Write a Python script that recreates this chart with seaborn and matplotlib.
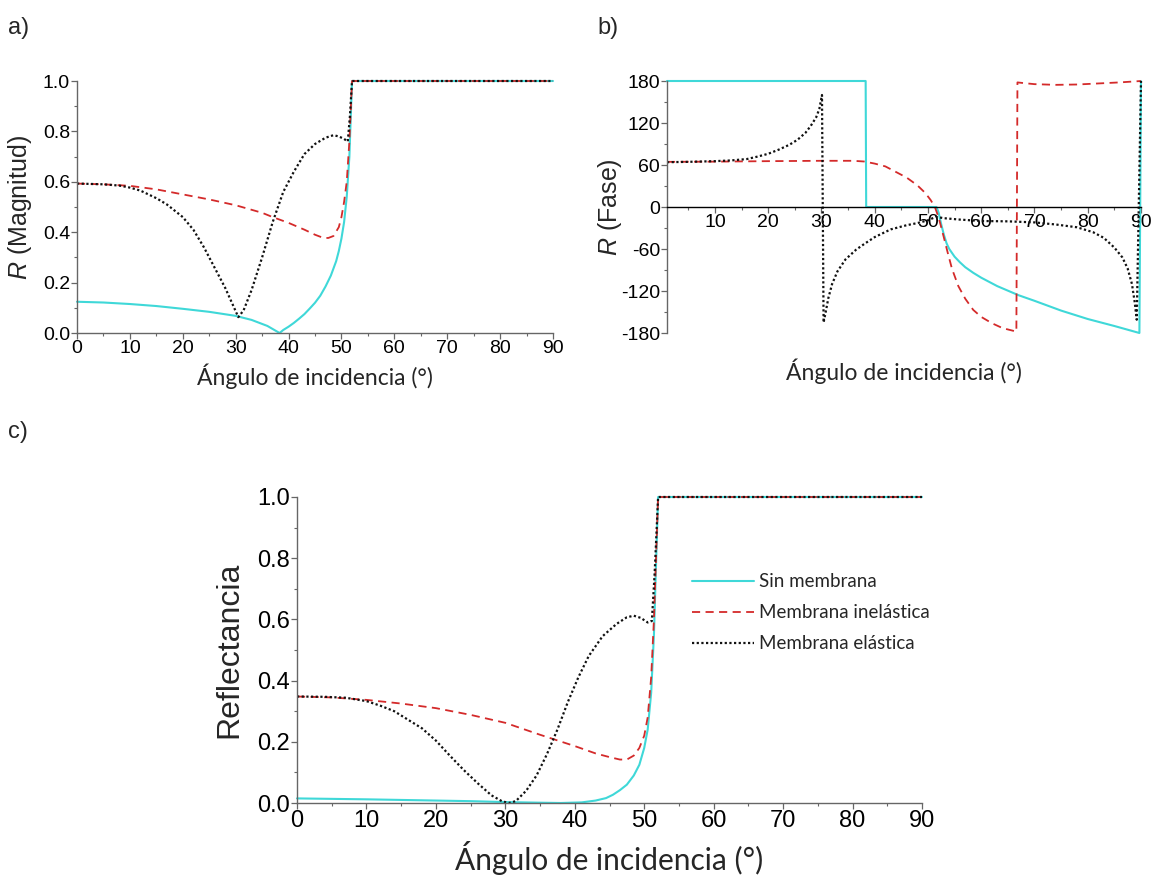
import numpy as np
import pandas as pd
import matplotlib
matplotlib.use("Agg")
import matplotlib.pyplot as plt
from matplotlib.ticker import MultipleLocator, FixedLocator
import seaborn as sns

# ---------------- data ----------------
# a) |R| magnitude vs angle of incidence
ang_a_sin = [0, 5, 10, 15, 20, 25, 30, 33, 36, 38.3, 39, 40, 41, 42, 43, 44, 45, 46, 47, 48, 49, 49.5, 50,
             50.5, 51, 51.5, 52, 90]
mag_sin = [0.124, 0.121, 0.115, 0.107, 0.096, 0.084, 0.068, 0.052, 0.028, 0.0, 0.012, 0.025, 0.04, 0.057,
           0.075, 0.097, 0.12, 0.148, 0.185, 0.228, 0.285, 0.325, 0.375, 0.44, 0.54, 0.70, 1.0, 1.0]
ang_a_inel = [0, 5, 10, 15, 20, 25, 30, 35, 37, 40, 43, 45, 46.5, 47.5, 48.5, 49.5, 50, 50.5, 51, 51.5, 52, 90]
mag_inel = [0.593, 0.59, 0.584, 0.57, 0.55, 0.53, 0.507, 0.477, 0.46, 0.437, 0.41, 0.39, 0.378, 0.377, 0.385,
            0.42, 0.46, 0.52, 0.60, 0.76, 1.0, 1.0]
ang_a_el = [0, 5, 8, 10, 12, 15, 17, 20, 22, 24, 26, 28, 29.5, 30.5, 31.5, 33, 35, 37, 39, 41, 43, 45, 47,
            48.5, 49.5, 50.5, 51.2, 51.6, 52, 90]
mag_el = [0.593, 0.59, 0.585, 0.577, 0.565, 0.535, 0.51, 0.46, 0.41, 0.34, 0.26, 0.18, 0.11, 0.063, 0.09, 0.17,
          0.30, 0.44, 0.56, 0.64, 0.71, 0.75, 0.775, 0.785, 0.78, 0.77, 0.76, 0.86, 1.0, 1.0]

# b) phase of R (degrees)
ang_b_sin = [1, 38.3, 38.4, 51.6, 52, 52.5, 53, 53.5, 54, 55, 56, 57, 58.5, 60, 63, 67, 70, 75, 80, 85,
             89.7, 90]
fase_sin = [180, 180, 0, 0, -8, -25, -40, -52, -60, -71, -79, -86, -94, -101, -113, -126, -134, -148, -160,
            -170, -180, 180]
ang_b_inel = [1, 10, 20, 30, 36, 38, 40, 42, 44, 46, 48, 49.5, 50.5, 51.3, 52, 52.6, 53.2, 53.7, 54.5, 55.7,
              57, 58.5, 60, 62, 64, 66.6, 66.8, 68, 70, 74, 78, 82, 86, 90]
fase_inel = [64.5, 64.8, 65.5, 66, 66, 65, 62, 58, 50, 42, 31, 20, 10, 0, -15, -32, -50, -65, -88, -113,
             -131, -147, -157, -166, -173, -178, 178, 177, 175.5, 174.5, 175, 176.5, 178, 180]
ang_b_el = [1, 5, 10, 13, 16, 18, 20, 22, 24, 25.5, 27, 28, 29, 29.6, 30.1, 30.4, 30.8, 31.3, 32, 33, 34.5,
            36.5, 38, 40, 43, 46, 48, 50, 51.5, 53, 56, 60, 65, 70, 74, 78, 81, 83, 85, 86.5, 87.5, 88.3,
            88.8, 89.2, 90]
fase_el = [64, 64.5, 65.5, 66.5, 68.5, 72, 76, 82, 89, 96, 106, 116, 128, 140, 160, -165, -150, -130, -110,
           -92, -75, -61, -53, -43, -32, -26, -23, -19, -14, -16, -18, -20, -20.5, -22, -25, -29, -36, -44,
           -58, -72, -88, -110, -135, -161, 180]

# c) reflectance
ang_c_sin = [0, 10, 20, 25, 30, 35, 38, 41, 43, 44.5, 45.5, 46.5, 47.5, 48.5, 49.3, 50, 50.5, 51, 51.4, 51.7,
             52, 90]
refl_sin = [0.015, 0.012, 0.008, 0.006, 0.003, 0.001, 0.0, 0.002, 0.008, 0.016, 0.027, 0.042, 0.06, 0.09,
            0.125, 0.18, 0.24, 0.36, 0.55, 0.78, 1.0, 1.0]
ang_c_inel = [0, 5, 10, 15, 20, 25, 30, 35, 40, 43, 45, 46.5, 47.5, 48.5, 49.3, 50, 50.5, 51, 51.4, 51.7,
              52, 90]
refl_inel = [0.348, 0.345, 0.337, 0.325, 0.31, 0.288, 0.262, 0.223, 0.186, 0.162, 0.15, 0.142, 0.142, 0.155,
             0.18, 0.22, 0.28, 0.41, 0.60, 0.80, 1.0, 1.0]
ang_c_el = [0, 4, 7, 10, 12, 14, 16, 18, 20, 22, 24, 26, 28, 29.5, 30.5, 31.5, 33, 34.5, 36, 37.5, 39, 40.5,
            42, 44, 46, 47.5, 48.5, 49.5, 50.5, 51.1, 51.5, 52, 90]
refl_el = [0.348, 0.347, 0.344, 0.333, 0.318, 0.30, 0.272, 0.244, 0.204, 0.155, 0.108, 0.065, 0.025, 0.006,
           0.0, 0.006, 0.04, 0.09, 0.16, 0.24, 0.33, 0.41, 0.48, 0.545, 0.585, 0.607, 0.612, 0.605, 0.59,
           0.595, 0.75, 1.0, 1.0]

series_names = ["Sin membrana", "Membrana inelástica", "Membrana elástica"]
x_label = "Ángulo de incidencia (°)"

# ---------------- style ----------------
sns.set_theme(style="ticks")
plt.rcParams["font.family"] = ["Liberation Sans", "DejaVu Sans"]
plt.rcParams["mathtext.fontset"] = "custom"
plt.rcParams["mathtext.it"] = "Liberation Sans:italic"
plt.rcParams["mathtext.rm"] = "Liberation Sans"
plt.rcParams["axes.unicode_minus"] = False

CYAN = "#3fd8d8"
RED = "#d42a2a"
BLACK = "#111111"
styles = [
    dict(color=CYAN, lw=1.5, ls="-"),
    dict(color=RED, lw=1.3, ls=(0, (4.5, 3))),
    dict(color=BLACK, lw=1.6, ls=(0, (1, 1.1))),
]
SPINE = "#666666"
LABEL_FONT = ["Lato", "DejaVu Sans"]


def draw(ax, xs, ys):
    for x, y, name, st in zip(xs, ys, series_names, styles):
        df = pd.DataFrame({"x": x, "y": y})
        sns.lineplot(data=df, x="x", y="y", ax=ax, sort=False, estimator=None,
                     color=st["color"], linewidth=st["lw"], linestyle=st["ls"],
                     label=name, clip_on=False)


def style_axes(ax, tick_size):
    for s in ("top", "right"):
        ax.spines[s].set_visible(False)
    for s in ("left", "bottom"):
        ax.spines[s].set_color(SPINE)
        ax.spines[s].set_linewidth(1.0)
    ax.tick_params(which="major", direction="out", length=4, width=0.9, color=SPINE,
                   labelsize=tick_size, pad=1, labelcolor="black")
    ax.tick_params(which="minor", direction="out", length=2.5, width=0.8, color=SPINE)


fig = plt.figure(figsize=(11.57, 8.84), dpi=100)

# ---------------- a) magnitude ----------------
ax_a = fig.add_axes([77 / 1157, 1 - 333 / 884, 476 / 1157, 252 / 884])
draw(ax_a, [ang_a_sin, ang_a_inel, ang_a_el], [mag_sin, mag_inel, mag_el])
ax_a.set_xlim(0, 90)
ax_a.set_ylim(0, 1.0)
ax_a.xaxis.set_major_locator(MultipleLocator(10))
ax_a.xaxis.set_minor_locator(MultipleLocator(5))
ax_a.yaxis.set_major_locator(MultipleLocator(0.2))
ax_a.yaxis.set_minor_locator(MultipleLocator(0.1))
ax_a.yaxis.set_major_formatter(lambda v, p: f"{v:.1f}")
style_axes(ax_a, 14)
ax_a.legend().remove()
ax_a.set_xlabel(x_label, fontsize=16.5, family=LABEL_FONT)
ax_a.set_ylabel(r"$\mathit{R}$ (Magnitud)", fontsize=18)
ax_a.xaxis.set_label_coords(0.5, -0.12)
ax_a.yaxis.set_label_coords(-0.09, 0.5)

# ---------------- b) phase ----------------
ax_b = fig.add_axes([667 / 1157, 1 - 333 / 884, 474 / 1157, 252 / 884])
draw(ax_b, [ang_b_sin, ang_b_inel, ang_b_el], [fase_sin, fase_inel, fase_el])
ax_b.set_xlim(1, 90)
ax_b.set_ylim(-180, 180)
ax_b.xaxis.set_major_locator(FixedLocator(list(range(10, 91, 10))))
ax_b.xaxis.set_minor_locator(FixedLocator(list(range(5, 91, 10))))
ax_b.yaxis.set_major_locator(MultipleLocator(60))
ax_b.yaxis.set_minor_locator(MultipleLocator(30))
style_axes(ax_b, 14)
ax_b.spines["bottom"].set_position(("data", 0))
ax_b.spines["bottom"].set_color("black")
ax_b.legend().remove()
ax_b.set_xlabel(x_label, fontsize=16.5, family=LABEL_FONT)
ax_b.set_ylabel(r"$\mathit{R}$ (Fase)", fontsize=18)
ax_b.xaxis.set_label_coords(0.5, -0.1)
ax_b.yaxis.set_label_coords(-0.09, 0.5)

# ---------------- c) reflectance ----------------
ax_c = fig.add_axes([297 / 1157, 1 - 803 / 884, 625 / 1157, 306 / 884])
draw(ax_c, [ang_c_sin, ang_c_inel, ang_c_el], [refl_sin, refl_inel, refl_el])
ax_c.set_xlim(0, 90)
ax_c.set_ylim(0, 1.0)
ax_c.xaxis.set_major_locator(MultipleLocator(10))
ax_c.xaxis.set_minor_locator(MultipleLocator(5))
ax_c.yaxis.set_major_locator(MultipleLocator(0.2))
ax_c.yaxis.set_minor_locator(MultipleLocator(0.1))
ax_c.yaxis.set_major_formatter(lambda v, p: f"{v:.1f}")
style_axes(ax_c, 17)
ax_c.set_xlabel(x_label, fontsize=21.5, family=LABEL_FONT)
ax_c.set_ylabel("Reflectancia", fontsize=23)
ax_c.xaxis.set_label_coords(0.5, -0.125)
ax_c.yaxis.set_label_coords(-0.085, 0.5)
leg = ax_c.legend(loc="upper left", bbox_to_anchor=(0.62, 0.775), frameon=False,
                  prop={"family": LABEL_FONT, "size": 13.5}, handlelength=3.3,
                  handletextpad=0.25, labelspacing=0.75, borderaxespad=0)

# ---------------- panel letters ----------------
for txt, x, y in (("a)", 8, 28), ("b)", 597, 28), ("c)", 8, 432)):
    fig.text(x / 1157, 1 - y / 884, txt, fontsize=17, ha="left", va="center")

fig.savefig("out.png", dpi=100, facecolor="white")
